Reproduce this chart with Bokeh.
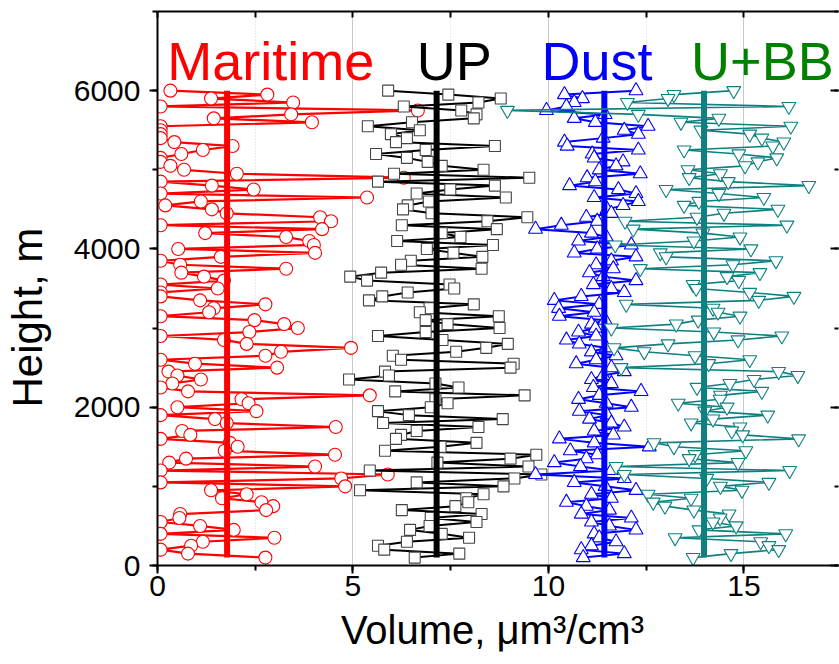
from bokeh.plotting import figure
from bokeh.models import Range1d, LinearAxis, Label, SingleIntervalTicker
from bokeh.embed import file_html
from bokeh.resources import INLINE

# Sounding levels (m), from top of the profile down to the lowest level
heights = list(range(6000, 99, -50))

# Volume concentration (um^3/cm^3) per level, same order as heights
maritime = [0.33, 2.81, 1.37, 3.47, 0.08, 6.66, 3.42, 1.44, 3.95, 0.08,
            0.08, 0.08, 0.08, 0.43, 1.92, 1.16, 0.61, 0.08, 0.08, 0.33,
            0.68, 2.03, 6.30, 0.08, 1.39, 2.46, 0.08, 5.36, 1.11, 0.20,
            1.39, 1.77, 4.16, 4.44, 0.08, 4.21, 1.22, 3.29, 3.88, 4.00,
            0.53, 4.03, 1.62, 0.08, 0.58, 3.29, 0.61, 1.19, 1.70, 0.08,
            1.54, 0.08, 0.08, 1.09, 2.76, 1.44, 1.32, 0.08, 2.48, 3.24,
            3.59, 2.35, 0.08, 1.70, 2.28, 4.95, 3.16, 2.76, 0.08, 0.96,
            3.06, 0.28, 0.51, 1.11, 0.38, 0.08, 0.78, 5.43, 2.15, 2.33,
            0.51, 2.53, 0.08, 1.47, 1.77, 4.56, 0.63, 0.84, 0.08, 1.85,
            2.05, 1.72, 4.54, 0.73, 0.30, 4.03, 0.08, 5.89, 4.70, 0.08,
            4.80, 1.37, 2.28, 1.65, 2.66, 2.96, 2.78, 0.58, 0.56, 0.08,
            1.09, 1.95, 0.08, 2.99, 1.16, 0.86, 0.08, 0.78, 2.76]

up = [5.90, 7.44, 8.78, 8.21, 6.30, 7.77, 8.16, 8.09, 6.51, 5.38,
      6.71, 5.97, 6.38, 6.10, 8.63, 6.86, 5.59, 6.38, 6.91, 7.27,
      8.34, 6.05, 9.51, 5.64, 8.63, 7.49, 6.63, 8.91, 6.94, 6.40,
      6.28, 7.01, 9.46, 8.44, 6.25, 8.68, 7.27, 7.75, 6.13, 8.58,
      6.89, 7.57, 8.31, 6.48, 6.23, 8.29, 5.72, 4.93, 5.36, 7.47,
      7.59, 6.40, 5.75, 5.41, 8.09, 6.96, 6.71, 8.73, 6.86, 7.42,
      8.75, 6.86, 5.64, 7.29, 8.96, 8.41, 7.64, 6.02, 6.23, 9.11,
      9.03, 5.82, 5.92, 4.90, 7.11, 7.70, 6.08, 9.39, 7.11, 7.42,
      6.99, 5.64, 6.43, 8.83, 5.77, 8.21, 6.63, 6.23, 6.10, 8.16,
      7.24, 5.82, 9.69, 9.03, 7.16, 9.49, 5.43, 9.82, 9.13, 6.63,
      8.85, 5.18, 8.34, 7.90, 7.95, 7.62, 6.25, 8.29, 6.99, 8.16,
      6.96, 6.46, 7.27, 7.97, 6.38, 5.64, 5.80, 7.72, 6.58]

dust = [12.24, 10.41, 10.87, 10.66, 10.46, 9.95, 11.45, 10.66, 11.20, 12.55,
        11.94, 12.30, 11.40, 10.41, 10.48, 12.30, 11.12, 11.17, 11.91, 11.73,
        11.30, 12.35, 10.99, 11.20, 10.54, 11.79, 12.24, 11.17, 12.30, 11.91,
        11.50, 11.61, 10.97, 11.25, 10.33, 9.67, 11.10, 11.48, 10.77, 12.12,
        11.25, 10.66, 12.24, 11.61, 11.22, 11.66, 11.05, 11.40, 12.24, 11.15,
        11.61, 11.94, 10.84, 10.15, 11.30, 10.26, 11.17, 10.28, 11.45, 11.10,
        11.20, 10.77, 11.22, 10.46, 10.79, 11.48, 11.10, 11.73, 11.22, 10.71,
        11.61, 11.94, 11.40, 11.10, 11.61, 11.15, 12.37, 11.30, 10.77, 11.48,
        12.12, 10.79, 11.50, 11.05, 11.61, 11.94, 11.17, 11.66, 10.28, 11.17,
        12.58, 10.56, 11.25, 10.97, 10.15, 10.82, 11.61, 9.67, 11.94, 10.66,
        11.45, 12.24, 11.10, 11.61, 10.46, 10.97, 11.56, 10.84, 12.12, 11.10,
        11.56, 12.24, 11.17, 11.30, 11.73, 11.10, 10.84, 11.94, 10.89]

ubb = [14.74, 13.21, 13.06, 12.02, 16.15, 8.95, 12.30, 14.36, 13.39, 16.20,
       13.90, 15.15, 15.46, 16.02, 15.74, 13.47, 14.87, 15.84, 15.36, 15.03,
       13.57, 14.40, 13.60, 14.60, 16.66, 13.01, 14.36, 15.51, 13.85, 13.47,
       15.87, 14.49, 13.80, 11.96, 16.10, 12.17, 13.95, 14.90, 13.72, 11.71,
       15.18, 12.86, 13.01, 15.82, 14.72, 12.35, 15.41, 14.57, 14.87, 13.70,
       13.78, 15.15, 16.28, 15.38, 11.99, 14.21, 14.34, 14.90, 13.83, 13.27,
       11.61, 14.23, 15.97, 14.85, 13.06, 11.68, 12.45, 13.75, 15.15, 14.10,
       11.86, 15.89, 16.38, 15.26, 14.64, 13.80, 15.46, 14.40, 14.39, 13.32,
       14.57, 14.00, 15.61, 14.21, 13.65, 14.90, 14.69, 14.97, 16.40, 12.70,
       13.21, 15.05, 13.75, 13.60, 14.85, 11.73, 16.17, 11.94, 14.05, 15.64,
       14.40, 14.95, 12.55, 13.65, 12.68, 12.98, 13.72, 14.62, 14.39, 14.21,
       14.80, 13.85, 16.07, 13.24, 15.43, 15.64, 15.89, 14.67, 13.70]

names = ["Maritime", "UP", "Dust", "U+BB"]
means = [1.78, 7.14, 11.43, 13.98]
mean_span = [100, 6000]

FONT = "Liberation Sans"
NBSP = "\u00a0"

p = figure(width=839, height=664,
           x_range=Range1d(0, 17.42), y_range=Range1d(0, 7000),
           output_backend="svg", toolbar_location=None,
           min_border_left=155, min_border_right=1,
           min_border_top=11, min_border_bottom=99,
           x_axis_label="Volume, \u03bcm\u00b3/cm\u00b3" + NBSP,
           y_axis_label="Height, m" + NBSP * 5)
p.outline_line_color = None
p.background_fill_color = "white"
p.border_fill_color = "white"

# grid: solid at the major x ticks, dotted halfway between
p.xgrid.ticker = SingleIntervalTicker(interval=5, num_minor_ticks=2)
p.xgrid.grid_line_color = "#c8c8c8"
p.xgrid.grid_line_width = 1
p.xgrid.minor_grid_line_color = "#d4d4d4"
p.xgrid.minor_grid_line_dash = "1 2"
p.ygrid.visible = False

def style_axis(ax):
    ax.axis_line_width = 2
    ax.axis_line_color = "black"
    ax.major_tick_line_width = 2
    ax.minor_tick_line_width = 2
    ax.major_tick_line_color = "black"
    ax.minor_tick_line_color = "black"
    ax.major_label_text_font = FONT
    ax.major_label_text_font_size = "30px"
    ax.major_label_text_color = "black"
    ax.axis_label_text_font = FONT
    ax.axis_label_text_font_style = "normal"
    ax.axis_label_text_color = "black"

def hide_labels(ax):
    # tick marks only, no numbers
    ax.major_label_text_font_size = "0px"
    ax.major_label_text_alpha = 0
    ax.major_label_text_color = None
    ax.major_label_standoff = 0

xa = p.xaxis[0]
xa.ticker = SingleIntervalTicker(interval=5, num_minor_ticks=2)
style_axis(xa)
xa.major_tick_in = 0
xa.major_tick_out = 8
xa.minor_tick_in = 0
xa.minor_tick_out = 5
xa.major_label_standoff = 2
xa.axis_label_text_font_size = "40px"
xa.axis_label_standoff = 9

ya = p.yaxis[0]
ya.ticker = SingleIntervalTicker(interval=2000, num_minor_ticks=2)
style_axis(ya)
ya.major_tick_in = 0
ya.major_tick_out = 8
ya.minor_tick_in = 0
ya.minor_tick_out = 5
ya.major_label_standoff = 9
ya.major_label_orientation = "horizontal"
ya.axis_label_text_font_size = "42px"
ya.axis_label_standoff = 20

top = LinearAxis(ticker=SingleIntervalTicker(interval=2.5, num_minor_ticks=0))
style_axis(top)
top.major_tick_in = 6
top.major_tick_out = 0
top.minor_tick_in = 0
top.minor_tick_out = 0
hide_labels(top)
p.add_layout(top, "above")

right = LinearAxis(ticker=SingleIntervalTicker(interval=2000, num_minor_ticks=2))
style_axis(right)
right.axis_line_color = None
right.major_tick_in = 8
right.major_tick_out = 0
right.minor_tick_in = 4
right.minor_tick_out = 0
hide_labels(right)
p.add_layout(right, "right")

series = [
    (maritime, "#ff0000", "circle", 13, 2.2, "#ff0000"),
    (up, "#000000", "square", 11, 2.0, "#444444"),
    (dust, "#0000ff", "triangle", 14, 2.0, "#0000ff"),
    (ubb, "#0e8080", "inverted_triangle", 14, 1.6, "#0e8080"),
]

for (vals, col, marker, size, lw, mcol), m in zip(series, means):
    p.line(vals, heights, line_color=col, line_width=lw)
    p.scatter(vals, heights, marker=marker, size=size,
              line_color=mcol, line_width=1.1, fill_color="white")
    p.line([m, m], mean_span, line_color=col, line_width=6)

title_colors = ["#ff0000", "#000000", "#0000ff", "#008000"]
title_x = [0.25, 6.63, 9.82, 13.65]
for name, c, tx in zip(names, title_colors, title_x):
    p.add_layout(Label(x=tx, y=6380, text=name, text_color=c,
                       text_font=FONT, text_font_size="54px",
                       text_baseline="alphabetic", text_align="left"))

open("out.html", "w").write(file_html(p, INLINE))
